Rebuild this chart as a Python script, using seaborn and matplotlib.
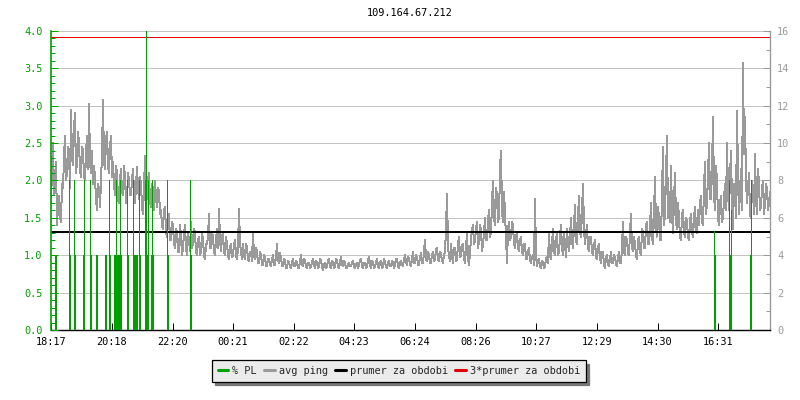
import numpy as np
import pandas as pd
import matplotlib
matplotlib.use("Agg")
import matplotlib.pyplot as plt
from matplotlib.lines import Line2D
from matplotlib.ticker import MultipleLocator, FormatStrFormatter
import seaborn as sns

title = "109.164.67.212"

# avg ping (ms), one sample every 2 minutes starting 18:17
ping_ms = [
    6.8, 8.6, 10.0, 7.2, 7.6, 9.0, 5.6, 6.6, 7.2, 6.0, 5.8, 7.8, 7.6, 9.2, 10.4, 8.0, 8.4, 9.8, 9.6, 7.6,
    11.8, 9.2, 8.8, 10.8, 11.6, 8.4, 9.0, 10.6, 10.0, 8.6, 8.2, 9.8, 9.6, 8.2, 8.0, 9.4, 10.4, 8.6, 12.1, 9.0,
    8.4, 9.6, 7.8, 8.8, 8.2, 7.0, 6.4, 7.8, 7.6, 6.6, 8.0, 9.4, 12.3, 9.0, 8.6, 10.2, 10.6, 8.8, 8.4, 9.8,
    10.4, 8.2, 9.0, 7.8, 7.2, 8.8, 8.4, 7.0, 6.8, 8.0, 8.6, 7.4, 7.2, 8.8, 8.2, 6.8, 7.0, 8.4, 8.0, 7.2,
    7.2, 8.0, 8.6, 7.4, 6.8, 7.8, 8.7, 7.6, 7.0, 8.2, 7.8, 6.6, 6.2, 7.6, 9.3, 7.4, 7.0, 8.0, 8.4, 6.8,
    6.6, 7.8, 7.6, 6.4, 8.0, 7.0, 6.6, 7.6, 7.4, 6.2, 6.4, 5.6, 5.4, 6.4, 6.6, 5.2, 5.0, 5.8, 6.2, 4.8,
    4.8, 5.8, 5.6, 4.6, 4.4, 5.4, 5.2, 4.2, 4.2, 5.6, 5.0, 4.0, 4.4, 5.2, 5.6, 4.4, 4.0, 5.2, 4.8, 4.2,
    5.8, 4.4, 4.6, 5.4, 5.2, 4.2, 4.0, 4.8, 5.0, 4.0, 4.2, 5.2, 4.8, 4.0, 3.8, 4.6, 4.6, 5.0, 6.2, 4.4,
    4.4, 5.2, 5.0, 4.2, 4.0, 4.8, 5.4, 4.4, 6.5, 4.8, 4.2, 5.0, 5.2, 4.2, 4.0, 5.0, 4.6, 4.0, 3.8, 4.4,
    4.6, 3.9, 4.0, 4.6, 4.8, 4.0, 3.8, 4.4, 6.5, 4.6, 4.2, 3.8, 4.6, 4.0, 3.8, 4.6, 4.4, 3.8, 3.7, 4.2,
    4.2, 3.7, 5.2, 4.0, 3.8, 4.4, 4.2, 3.6, 3.6, 4.2, 4.0, 3.5, 3.5, 4.0, 3.9, 3.4, 3.4, 3.8, 3.8, 3.5,
    3.4, 3.8, 4.0, 3.5, 3.5, 3.9, 4.6, 3.7, 3.6, 4.1, 3.9, 3.4, 3.4, 3.8, 3.7, 3.3, 3.3, 3.7, 3.6, 3.4,
    3.3, 3.6, 3.8, 3.4, 3.4, 3.7, 3.6, 3.3, 3.3, 3.7, 4.0, 3.5, 3.4, 3.8, 3.7, 3.4, 3.3, 3.6, 3.6, 3.3,
    3.4, 3.6, 3.8, 3.5, 3.3, 3.7, 3.6, 3.3, 3.4, 3.8, 3.7, 3.4, 3.2, 3.5, 3.6, 3.3, 3.4, 3.7, 3.8, 3.4,
    3.3, 3.7, 3.6, 3.3, 3.4, 3.8, 3.7, 3.4, 3.3, 3.6, 3.9, 3.5, 3.4, 3.7, 3.6, 3.3, 3.3, 3.5, 3.6, 3.4,
    3.4, 3.6, 3.7, 3.4, 3.3, 3.5, 3.6, 3.3, 3.5, 3.7, 3.8, 3.4, 3.3, 3.6, 3.6, 3.3, 3.4, 3.7, 3.9, 3.5,
    3.3, 3.7, 3.6, 3.3, 3.4, 3.6, 3.8, 3.4, 3.3, 3.6, 3.7, 3.3, 3.4, 3.8, 3.6, 3.4, 3.3, 3.6, 3.7, 3.4,
    3.4, 3.7, 3.6, 3.3, 3.5, 3.8, 3.8, 3.4, 3.3, 3.6, 3.7, 3.5, 3.4, 3.8, 4.0, 3.6, 3.5, 3.9, 3.8, 3.5,
    3.4, 3.8, 4.2, 3.6, 3.6, 4.0, 3.9, 3.5, 3.5, 3.9, 4.1, 3.6, 3.6, 4.2, 4.8, 3.8, 3.7, 4.2, 4.0, 3.6,
    3.6, 4.0, 4.2, 3.7, 3.8, 4.3, 4.4, 3.8, 3.7, 4.2, 4.1, 3.7, 3.6, 4.0, 4.2, 5.4, 7.3, 4.4, 4.0, 3.7,
    4.6, 4.0, 3.6, 4.4, 4.4, 3.7, 3.8, 4.6, 5.0, 3.9, 4.0, 4.5, 4.6, 3.8, 3.6, 4.4, 5.2, 3.8, 3.5, 4.2,
    4.8, 5.4, 5.6, 4.6, 4.8, 5.4, 5.8, 4.4, 4.8, 5.6, 5.4, 4.2, 4.6, 5.2, 6.0, 4.8, 4.8, 5.8, 6.4, 5.0,
    5.2, 6.8, 8.0, 6.0, 5.6, 7.6, 7.2, 5.8, 6.0, 8.6, 9.6, 6.4, 5.8, 7.4, 6.2, 5.0, 3.6, 5.4, 5.8, 4.8,
    5.0, 5.8, 5.6, 4.6, 4.4, 5.0, 5.2, 4.4, 4.2, 4.8, 5.0, 4.2, 4.0, 4.6, 4.6, 3.8, 3.8, 4.2, 4.4, 3.7,
    3.6, 3.9, 4.0, 3.5, 7.0, 4.0, 3.4, 3.7, 3.8, 3.4, 3.3, 3.7, 3.6, 3.3, 3.4, 3.8, 3.9, 3.6, 5.2, 4.0,
    3.8, 4.6, 5.4, 4.2, 4.0, 4.8, 5.2, 4.0, 4.2, 5.0, 5.6, 4.4, 4.0, 5.2, 4.6, 3.9, 5.4, 4.6, 4.2, 5.0,
    6.0, 4.8, 4.4, 5.6, 6.7, 4.8, 4.6, 6.0, 7.2, 5.2, 5.0, 6.4, 7.8, 5.4, 4.6, 5.2, 5.6, 4.4, 4.2, 5.0,
    5.0, 4.2, 4.0, 4.6, 4.8, 3.9, 3.8, 4.4, 4.6, 3.8, 3.6, 4.2, 4.2, 3.5, 3.3, 3.9, 4.0, 3.5, 3.4, 3.8,
    4.2, 3.6, 3.6, 4.0, 3.9, 3.5, 3.4, 3.9, 4.2, 3.6, 3.6, 4.4, 5.8, 4.2, 4.0, 5.0, 4.8, 4.1, 4.0, 5.2,
    6.2, 4.4, 4.2, 5.0, 4.6, 4.0, 3.8, 4.8, 5.0, 4.2, 4.0, 5.4, 5.2, 4.4, 4.4, 5.6, 5.8, 4.6, 4.6, 5.4,
    6.8, 5.0, 4.6, 6.2, 8.2, 5.4, 5.0, 6.6, 6.0, 4.8, 4.8, 7.2, 9.8, 5.6, 6.2, 8.4, 10.4, 6.0, 7.4, 5.8,
    8.8, 6.2, 5.2, 7.0, 8.4, 5.8, 5.4, 6.8, 6.0, 5.0, 4.8, 6.2, 6.4, 5.2, 5.0, 6.0, 5.8, 5.0, 4.8, 5.8,
    6.2, 5.2, 5.0, 6.0, 6.6, 5.4, 5.2, 6.4, 5.6, 6.8, 7.2, 5.8, 5.6, 7.6, 9.0, 6.2, 6.8, 8.2, 10.0, 7.0,
    7.0, 8.6, 11.4, 7.2, 6.4, 8.8, 8.0, 6.0, 5.6, 6.8, 7.2, 5.8, 6.0, 7.0, 7.8, 6.4, 10.0, 7.4, 6.4, 8.2,
    9.6, 6.6, 5.4, 7.8, 7.6, 6.0, 11.7, 8.2, 6.2, 7.4, 8.6, 6.4, 14.3, 9.4, 11.4, 8.0, 6.8, 7.6, 8.4, 6.2,
    6.0, 8.0, 7.4, 6.2, 9.4, 7.0, 6.2, 8.6, 7.8, 6.4, 6.6, 7.6, 8.0, 6.2, 6.8, 7.8, 7.6, 6.4, 6.8, 7.4,
]
ping_minutes = np.arange(len(ping_ms)) * 2  # minutes after 18:17

# packet loss (%) events, minute after 18:17
pl_minutes = [8, 10, 36, 38, 46, 48, 64, 66, 78, 80, 90, 92, 108, 110,
              116, 118, 126, 128, 130, 132, 134, 136, 138, 140,
              152, 154, 164, 166, 168, 170, 172, 176, 178,
              188, 190, 192, 194, 200, 202, 204, 232, 234, 278, 280,
              1326, 1328, 1356, 1358, 1360, 1398, 1400]
pl_values = [1.0, 1.0, 2.0, 1.0, 2.0, 1.0, 1.0, 2.0, 2.0, 1.0, 1.0, 1.0, 1.0, 1.0,
             2.0, 1.0, 1.0, 1.0, 2.0, 1.0, 1.0, 1.0, 2.0, 1.0,
             2.0, 1.0, 2.0, 1.0, 1.0, 1.0, 1.0, 2.0, 1.0,
             2.0, 4.0, 1.0, 2.0, 1.0, 2.0, 1.0, 2.0, 1.0, 2.0, 1.0,
             1.33, 1.0, 2.0, 1.0, 1.6, 1.0, 2.0]

mean_ping = 5.23          # prumer za obdobi (ms)
mean3_ping = 15.66        # 3*prumer za obdobi (ms)

tick_labels = ["18:17", "20:18", "22:20", "00:21", "02:22", "04:23",
               "06:24", "08:26", "10:27", "12:29", "14:30", "16:31"]
tick_minutes = [0, 121, 243, 364, 485, 606, 727, 849, 970, 1092, 1213, 1334]

legend_labels = ["% PL", "avg ping", "prumer za obdobi", "3*prumer za obdobi"]

GREEN = "#00a000"
GRAY = "#9a9a9a"
GRID = "#c4c4c4"
RED = "#e00000"
PX = 0.72  # one pixel in points at 100 dpi

sns.set_style("white")
plt.rcParams["font.family"] = ["DejaVu Sans Mono", "DejaVu Sans"]
FS = 7.4

fig = plt.figure(figsize=(8, 4), dpi=100)
ax = fig.add_axes([51 / 800, 70 / 400, 719 / 800, 299 / 400])
ax2 = ax.twinx()

df = pd.DataFrame({"t": ping_minutes, "ping": ping_ms})
sns.lineplot(data=df, x="t", y="ping", ax=ax, color=GRAY, linewidth=PX,
             zorder=3, legend=False, antialiased=False)
ax.axhline(mean_ping, color="black", linewidth=2 * PX, zorder=4, antialiased=False)
ax.axhline(mean3_ping, color=RED, linewidth=PX, zorder=4, antialiased=False)

ax.set_xlim(0, 1438)
ax.set_ylim(0, 16)
ax2.set_ylim(0, 4)

ax2.vlines(pl_minutes, 0, pl_values, color=GREEN, linewidth=PX, zorder=5,
           antialiased=False)

# grid on ping axis (aligns with 0.5 steps of PL axis)
ax.yaxis.set_major_locator(MultipleLocator(2))
ax.yaxis.set_minor_locator(MultipleLocator(1))
ax.grid(True, axis="y", color=GRID, linewidth=PX, zorder=0, antialiased=False)
ax.grid(False, axis="x")
ax.set_axisbelow(True)

# ping axis on the right, PL axis on the left
ax.yaxis.tick_right()
ax.yaxis.set_label_position("right")
ax2.yaxis.tick_left()
ax2.yaxis.set_label_position("left")
ax2.yaxis.set_major_locator(MultipleLocator(0.5))
ax2.yaxis.set_minor_locator(MultipleLocator(0.1))
ax2.yaxis.set_major_formatter(FormatStrFormatter("%.1f"))

ax.set_xticks(tick_minutes)
ax.set_xticklabels(tick_labels)
ax.set_xlabel("")
ax.set_ylabel("")
ax2.set_ylabel("")

ax.tick_params(axis="x", direction="in", length=5, width=PX, color="black",
               labelsize=FS, labelcolor="black", pad=5, bottom=True)
ax.tick_params(axis="y", which="major", direction="in", length=5, width=PX,
               color=GRAY, labelsize=FS, labelcolor=GRAY, pad=5,
               right=True, left=False)
ax.tick_params(axis="y", which="minor", direction="in", length=3, width=PX,
               color=GRAY, right=True, left=False)
ax2.tick_params(axis="y", which="major", direction="in", length=5, width=PX,
                color=GREEN, labelsize=FS, labelcolor=GREEN, pad=6,
                left=True, right=False)
ax2.tick_params(axis="y", which="minor", direction="in", length=3, width=PX,
                color=GREEN, left=True, right=False)

for a in (ax, ax2):
    for s in ("top", "left", "right", "bottom"):
        a.spines[s].set_visible(False)
ax.spines["bottom"].set_visible(True)
ax.spines["bottom"].set_color("black")
ax.spines["bottom"].set_linewidth(1.0)
ax.spines["right"].set_visible(True)
ax.spines["right"].set_color(GRAY)
ax.spines["right"].set_linewidth(1.0)
ax2.spines["left"].set_visible(True)
ax2.spines["left"].set_color(GREEN)
ax2.spines["left"].set_linewidth(1.2)
ax2.patch.set_visible(False)

fig.text(410 / 800, 1 - 13.5 / 400, title, ha="center", va="center",
         fontsize=FS, color="black")

handles = [Line2D([], [], color=c, linewidth=2.2)
           for c in (GREEN, GRAY, "black", RED)]
leg = fig.legend(handles, legend_labels, loc="center",
                 bbox_to_anchor=(399 / 800, 1 - 371 / 400), ncol=4,
                 fontsize=FS, frameon=True, fancybox=False, framealpha=1,
                 facecolor="#ebebeb", edgecolor="black",
                 handlelength=1.05, handletextpad=0.4, columnspacing=0.7,
                 borderpad=0.55, borderaxespad=0,
                 shadow={"ox": 2.4, "oy": -2.4, "facecolor": "#777777",
                         "edgecolor": "#777777", "alpha": 1})
leg.get_frame().set_linewidth(0.9)

fig.savefig("out.png", dpi=100)
